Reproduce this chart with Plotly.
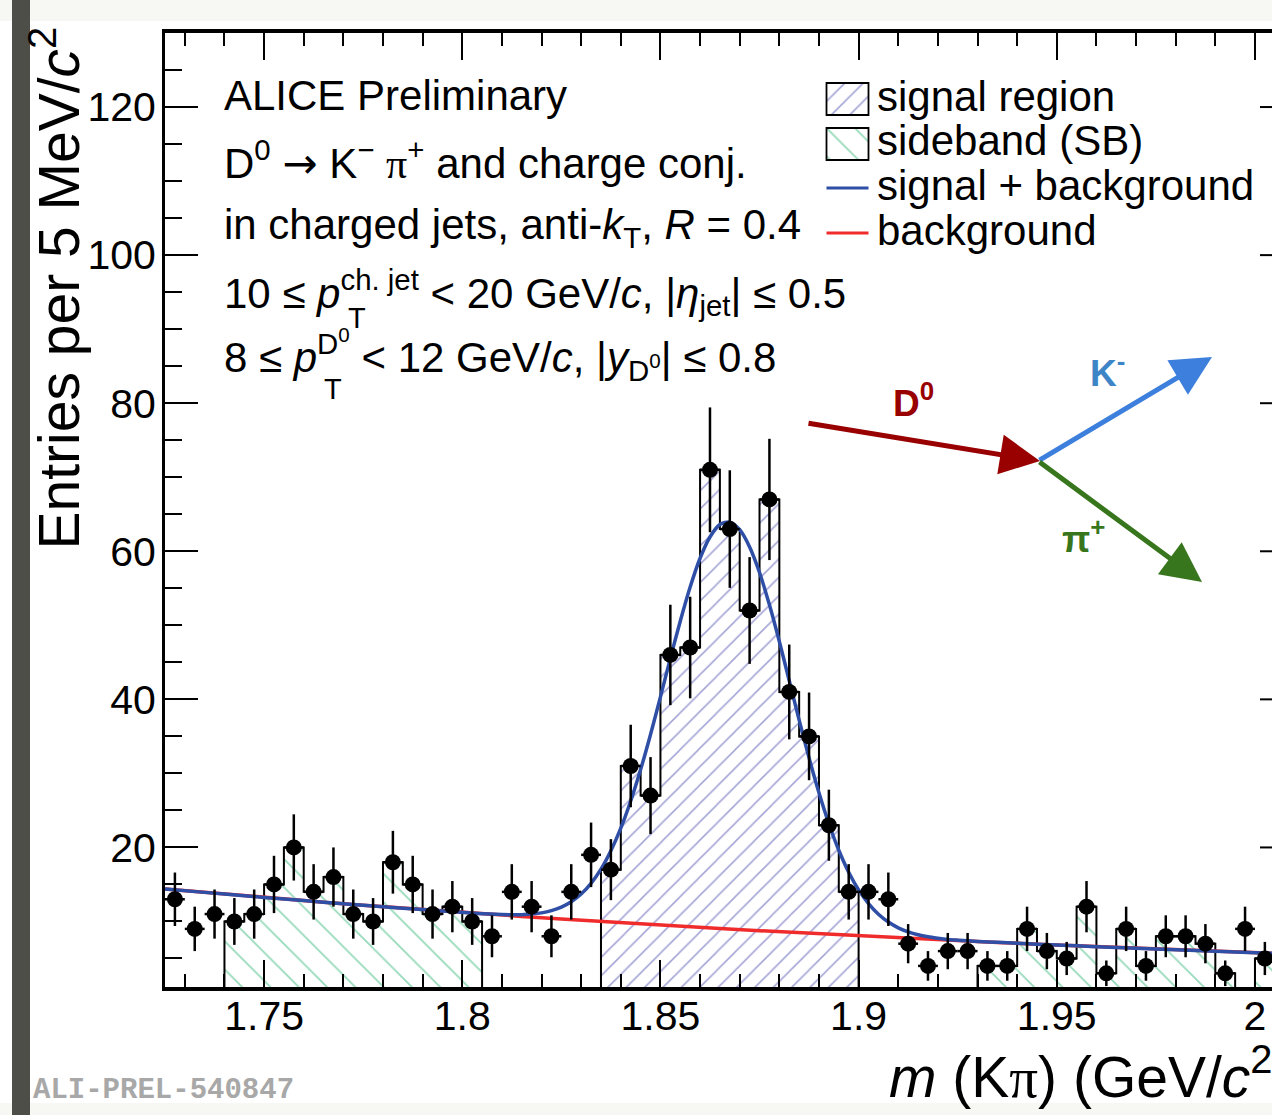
import plotly.graph_objects as go

# ---------------- figure geometry ----------------
W, H = 1272, 1115
ML, MR, MT, MB = 165, 0, 33, 128


def px(x):
    return (x - ML) / (W - ML - MR)


def py(y):
    return (H - MB - y) / (H - MT - MB)


# ---------------- data ----------------
mass_low = 1.725
bin_width = 0.005
counts = [13, 9, 11, 10, 11, 15, 20, 14, 16, 11,
          10, 18, 15, 11, 12, 10, 8, 14, 12, 8,
          14, 19, 17, 31, 27, 46, 47, 71, 63, 52,
          67, 41, 35, 23, 14, 14, 13, 7, 4, 6,
          6, 4, 4, 9, 6, 5, 12, 3, 9, 4,
          8, 8, 7, 3, 9, 5]
count_errors = [3.61, 3.00, 3.32, 3.16, 3.32, 3.87, 4.47, 3.74, 4.00, 3.32,
                3.16, 4.24, 3.87, 3.32, 3.46, 3.16, 2.83, 3.74, 3.46, 2.83,
                3.74, 4.36, 4.12, 5.57, 5.20, 6.78, 6.86, 8.43, 7.94, 7.21,
                8.19, 6.40, 5.92, 4.80, 3.74, 3.74, 3.61, 2.65, 2.00, 2.45,
                2.45, 2.00, 2.00, 3.00, 2.45, 2.24, 3.46, 1.73, 3.00, 2.00,
                2.83, 2.83, 2.65, 1.73, 3.00, 2.24]

signal_ranges = [(1.835, 1.900)]
sideband_ranges = [(1.740, 1.805), (1.930, 1.995), (2.000, 2.005)]

fit_mass = [1.725, 1.735, 1.745, 1.755, 1.765, 1.775, 1.785, 1.795, 1.805,
            1.81, 1.8125, 1.815, 1.8175, 1.82, 1.8225, 1.825, 1.8275, 1.83, 1.8325,
            1.835, 1.8375, 1.84, 1.8425, 1.845, 1.8475, 1.85, 1.8525, 1.855, 1.8575,
            1.86, 1.8625, 1.865, 1.8675, 1.87, 1.8725, 1.875, 1.8775, 1.88, 1.8825,
            1.885, 1.8875, 1.89, 1.8925, 1.895, 1.8975, 1.90, 1.9025, 1.905, 1.9075,
            1.91, 1.9125, 1.915, 1.9175, 1.92, 1.9225, 1.925, 1.93, 1.935, 1.945,
            1.955, 1.965, 1.975, 1.985, 1.995, 2.005, 2.015]
fit_total = [14.40, 13.93, 13.48, 13.03, 12.61, 12.20, 11.80, 11.41, 11.06,
             10.94, 10.91, 10.92, 11.00, 11.16, 11.46, 11.93, 12.66, 13.70, 15.15,
             17.06, 19.54, 22.60, 26.28, 30.52, 35.26, 40.34, 45.53, 50.56, 55.17,
             59.06, 61.93, 63.61, 63.94, 62.92, 60.59, 57.13, 52.77, 47.81, 42.52,
             37.20, 32.09, 27.38, 23.20, 19.62, 16.65, 14.26, 12.40, 10.97, 9.92,
             9.14, 8.59, 8.20, 7.93, 7.74, 7.58, 7.48, 7.31, 7.18, 6.94,
             6.71, 6.49, 6.28, 6.07, 5.88, 5.68, 5.50]
bkg_mass = [1.725, 1.735, 1.745, 1.755, 1.765, 1.775, 1.785, 1.795, 1.805, 1.815,
            1.825, 1.835, 1.845, 1.855, 1.865, 1.875, 1.885, 1.895, 1.905, 1.915,
            1.925, 1.935, 1.945, 1.955, 1.965, 1.975, 1.985, 1.995, 2.005, 2.015]
bkg_values = [14.40, 13.93, 13.48, 13.03, 12.61, 12.20, 11.80, 11.41, 11.04, 10.68,
              10.33, 9.99, 9.67, 9.35, 9.05, 8.75, 8.47, 8.19, 7.92, 7.66,
              7.41, 7.17, 6.94, 6.71, 6.49, 6.28, 6.07, 5.88, 5.68, 5.50]

x_ticks = [1.75, 1.80, 1.85, 1.90, 1.95, 2.00]
x_tick_labels = ["1.75", "1.8", "1.85", "1.9", "1.95", "2"]
y_ticks = [20, 40, 60, 80, 100, 120]
y_tick_labels = ["20", "40", "60", "80", "100", "120"]
x_range = [1.725, 2.0043]
y_range = [1.15, 130]

legend_labels = ["signal region", "sideband (SB)", "signal + background", "background"]

# ---------------- helpers ----------------
centers = [round(mass_low + (i + 0.5) * bin_width, 5) for i in range(len(counts))]


def select(ranges):
    xs, ys = [], []
    for c, v in zip(centers, counts):
        if any(lo < c < hi for lo, hi in ranges):
            xs.append(c)
            ys.append(v)
    return xs, ys


def outline(ranges):
    xs, ys = [], []
    for lo, hi in ranges:
        idx = [i for i, c in enumerate(centers) if lo < c < hi]
        vals = [counts[i] for i in idx]
        edges = [round(centers[i] - bin_width / 2, 5) for i in idx]
        xs += [lo] + edges + [hi, hi, None]
        ys += [0] + vals + [vals[-1], 0, None]
    return xs, ys


BLUE_HATCH = "#4a4aae"
GREEN_HATCH = "#2fb574"
FIT_BLUE = "#2f4fa6"
FIT_RED = "#ef2b2b"
FONT = "Liberation Sans"
SIG_PAT = dict(shape="/", fgcolor=BLUE_HATCH, bgcolor="rgba(0,0,0,0)", size=13, solidity=0.12)
SB_PAT = dict(shape="\\", fgcolor=GREEN_HATCH, bgcolor="rgba(0,0,0,0)", size=20, solidity=0.09)

fig = go.Figure()

sx, sy = select(signal_ranges)
fig.add_trace(go.Bar(x=sx, y=sy, width=bin_width, base=0,
                     marker=dict(color="rgba(0,0,0,0)", line=dict(width=0), pattern=SIG_PAT),
                     showlegend=False, hoverinfo="skip"))
bx, by = select(sideband_ranges)
fig.add_trace(go.Bar(x=bx, y=by, width=bin_width, base=0,
                     marker=dict(color="rgba(0,0,0,0)", line=dict(width=0), pattern=SB_PAT),
                     showlegend=False, hoverinfo="skip"))

for rngs in (signal_ranges, sideband_ranges):
    ox, oy = outline(rngs)
    fig.add_trace(go.Scatter(x=ox, y=oy, mode="lines", line=dict(color="black", width=2, shape="hv"),
                             connectgaps=False, showlegend=False, hoverinfo="skip"))

fig.add_trace(go.Scatter(x=bkg_mass, y=bkg_values, mode="lines",
                         line=dict(color=FIT_RED, width=3.5), showlegend=False))
fig.add_trace(go.Scatter(x=fit_mass, y=fit_total, mode="lines",
                         line=dict(color=FIT_BLUE, width=3.5, shape="spline", smoothing=0.8),
                         showlegend=False))

fig.add_trace(go.Scatter(
    x=centers, y=counts, mode="markers",
    marker=dict(color="black", size=16, line=dict(width=0)),
    error_y=dict(type="data", array=count_errors, thickness=2.5, width=0, color="black"),
    error_x=dict(type="constant", value=bin_width / 2, thickness=2.5, width=0, color="black"),
    showlegend=False))

# ---------------- legend keys (auxiliary axes) ----------------
fig.add_trace(go.Bar(x=[0.5], y=[1], width=1, base=0, xaxis="x2", yaxis="y2",
                     marker=dict(color="white", line=dict(width=0), pattern=SIG_PAT),
                     showlegend=False, hoverinfo="skip"))
fig.add_trace(go.Bar(x=[0.5], y=[1], width=1, base=0, xaxis="x3", yaxis="y3",
                     marker=dict(color="white", line=dict(width=0), pattern=SB_PAT),
                     showlegend=False, hoverinfo="skip"))

hidden = dict(visible=False, range=[0, 1], fixedrange=True)

fig.update_layout(
    width=W, height=H,
    margin=dict(l=ML, r=MR, t=MT, b=MB, pad=0),
    paper_bgcolor="white", plot_bgcolor="white",
    barmode="overlay", bargap=0,
    font=dict(family=FONT, color="black"),
    xaxis=dict(range=x_range, showgrid=False, zeroline=False,
               showline=True, linecolor="black", linewidth=3.5, mirror="ticks",
               ticks="inside", ticklen=27, tickwidth=2, tickcolor="black",
               tickvals=x_ticks, ticktext=x_tick_labels,
               tickfont=dict(size=41, family=FONT), ticklabelstandoff=-10,
               minor=dict(ticks="inside", ticklen=13, tickwidth=2, dtick=0.01, tick0=1.75,
                          tickcolor="black", showgrid=False)),
    yaxis=dict(range=y_range, showgrid=False, zeroline=False,
               showline=True, linecolor="black", linewidth=3, mirror=False,
               ticks="inside", ticklen=33, tickwidth=2, tickcolor="black",
               tickvals=y_ticks, ticktext=y_tick_labels,
               tickfont=dict(size=41, family=FONT), ticklabelstandoff=-2,
               minor=dict(ticks="inside", ticklen=17, tickwidth=2, dtick=5, tick0=0,
                          tickcolor="black", showgrid=False)),
    xaxis2=dict(domain=[px(826.5), px(868.5)], anchor="y2", **hidden),
    yaxis2=dict(domain=[py(115), py(83)], anchor="x2", **hidden),
    xaxis3=dict(domain=[px(826.5), px(868.5)], anchor="y3", **hidden),
    yaxis3=dict(domain=[py(160), py(128)], anchor="x3", **hidden),
)

shapes = []
# slide decorations
shapes.append(dict(type="rect", xref="paper", yref="paper", x0=px(0), x1=px(W), y0=py(0), y1=py(21),
                   fillcolor="#f7f7f3", line_width=0, layer="below"))
shapes.append(dict(type="rect", xref="paper", yref="paper", x0=px(0), x1=px(W), y0=py(1103), y1=py(H),
                   fillcolor="#f7f7f3", line_width=0, layer="below"))
shapes.append(dict(type="rect", xref="paper", yref="paper", x0=px(12), x1=px(30), y0=py(0), y1=py(H),
                   fillcolor="#4e4e49", line_width=0, layer="above"))
# right-hand frame ticks (frame lies just beyond the visible window)
for yt in y_ticks:
    shapes.append(dict(type="line", xref="paper", yref="y", x0=px(1260), x1=px(1272), y0=yt, y1=yt,
                       line=dict(color="black", width=2)))
# legend key outlines and line keys
for y0, y1 in ((115, 83), (160, 128)):
    shapes.append(dict(type="rect", xref="paper", yref="paper", x0=px(826.5), x1=px(868.5),
                       y0=py(y0), y1=py(y1), line=dict(color="black", width=1.8)))
shapes.append(dict(type="line", xref="paper", yref="paper", x0=px(826.5), x1=px(868.5),
                   y0=py(188), y1=py(188), line=dict(color=FIT_BLUE, width=3)))
shapes.append(dict(type="line", xref="paper", yref="paper", x0=px(826.5), x1=px(868.5),
                   y0=py(233), y1=py(233), line=dict(color=FIT_RED, width=3)))
fig.update_layout(shapes=shapes)

ann = []


def text(x, y, s, size=42, xanchor="left", yanchor="middle", color="black", family=FONT, **kw):
    ann.append(dict(xref="paper", yref="paper", x=px(x), y=py(y), text=s, showarrow=False,
                    xanchor=xanchor, yanchor=yanchor,
                    font=dict(size=size, color=color, family=family), **kw))


PI = "<span style='font-family:Liberation Serif'>π</span>"
ARROW = "<span style='font-family:DejaVu Sans'>→</span>"
text(222, 95, "ALICE Preliminary")
text(222, 160, "D<sup>0</sup> " + ARROW + " K<sup>−</sup> " + PI + "<sup>+</sup> and charge conj.")
text(222, 228, "in charged jets, anti-<i>k</i><sub>T</sub>, <i>R</i> = 0.4")
text(222, 292, "10 ≤ <i>p</i><sup>ch. jet</sup> < 20 GeV/<i>c</i>, |<i>η</i><sub>jet</sub>| ≤ 0.5")
text(346, 318, "T", size=29)
text(222, 355, "8 ≤ <i>p</i><sup>D<sup>0</sup></sup> < 12 GeV/<i>c</i>, |<i>y</i><sub>D<sup>0</sup></sub>| ≤ 0.8")
text(322, 389, "T", size=29)

# legend texts
for lbl, yy in zip(legend_labels, [97, 141, 186, 230]):
    text(875, yy, lbl)

# axis titles
text(887, 1073, "<i>m</i> (K" + PI + ") (GeV/<i>c</i><sup>2</sup>)", size=57)
ann.append(dict(xref="paper", yref="paper", x=px(55), y=py(552), text="Entries per 5 MeV/<i>c</i><sup>2</sup>",
                showarrow=False, textangle=-90, xanchor="center", yanchor="bottom",
                font=dict(size=57, family=FONT, color="black")))

# preliminary id
text(31, 1090, "<b>ALI-PREL-540847</b>", size=29, color="#a8a8a8", family="Liberation Mono")


# decay diagram
def arrow(tail, tip, color):
    ann.append(dict(xref="paper", yref="paper", x=px(tip[0]), y=py(tip[1]),
                    ax=tail[0] - tip[0], ay=tail[1] - tip[1], text="", showarrow=True,
                    arrowhead=2, arrowwidth=5, arrowsize=1.6, arrowcolor=color, standoff=0))


arrow((807, 423), (1040, 461), "#990000")
arrow((1038, 461), (1212, 357), "#3c7fdc")
arrow((1038, 461), (1202, 582), "#38761d")
text(913, 401, "<b>D<sup>0</sup></b>", size=37, xanchor="center", color="#990000")
text(1107, 370, "<b>K<sup>-</sup></b>", size=37, xanchor="center", color="#3d85c6")
text(1083, 536, "<b>π<sup>+</sup></b>", size=37, xanchor="center", color="#38761d")

fig.update_layout(annotations=ann)

fig.write_html("out.html")
